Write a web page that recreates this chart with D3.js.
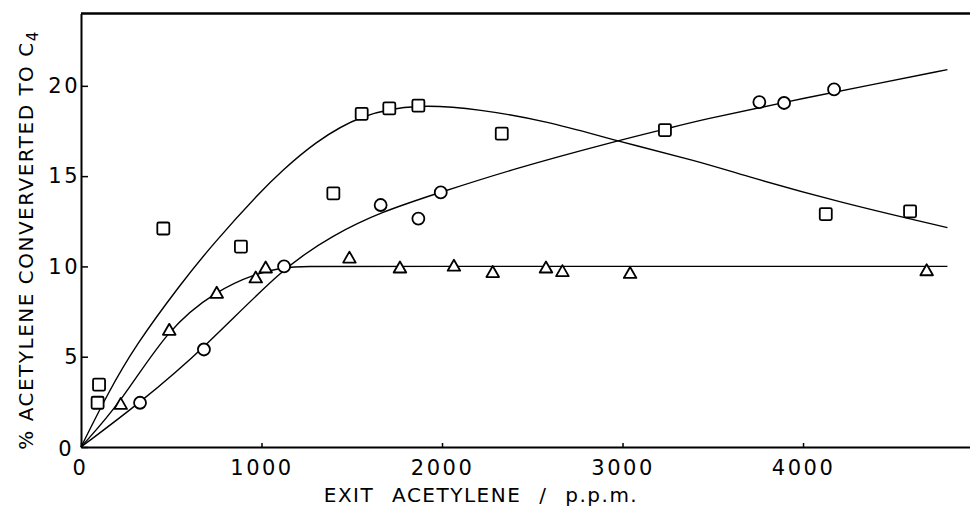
<!DOCTYPE html>
<html><head><meta charset="utf-8">
<script src="https://cdn.jsdelivr.net/npm/d3@7"></script>
<style>body{margin:0;background:#fff}svg{display:block}</style>
</head><body>
<svg id="c" width="970" height="509"></svg>
<script>
// ---- data ----
const xTicks = [0, 1000, 2000, 3000, 4000];
const yTicks = [0, 5, 10, 15, 20];

const squaresX = [92, 100, 456, 886, 1398, 1555, 1708, 1869, 2331, 3235, 4126, 4593];
const squaresY = [2.45, 3.45, 12.1, 11.1, 14.05, 18.45, 18.75, 18.9, 17.35, 17.55, 12.9, 13.05];

const circlesX = [327, 681, 1125, 1660, 1869, 1993, 3758, 3895, 4172];
const circlesY = [2.45, 5.4, 10.0, 13.4, 12.65, 14.1, 19.1, 19.05, 19.8];

const trianglesX = [220, 489, 752, 968, 1023, 1487, 1767, 2066, 2281, 2576, 2667, 3042, 4685];
const trianglesY = [2.4, 6.5, 8.55, 9.4, 9.95, 10.5, 9.95, 10.05, 9.7, 9.95, 9.75, 9.65, 9.8];

// hand-drawn fitted curves
const squareFitX = [0, 150, 300, 550, 735, 1010, 1104, 1290, 1555, 1870, 2210, 2580, 2968, 3430, 3650, 4200, 4800];
const squareFitY = [0, 3.0, 5.6, 9.0, 11.3, 14.3, 15.2, 16.85, 18.45, 19.0, 18.7, 18.05, 16.95, 15.8, 15.1, 13.55, 12.15];

const circleFitX = [0, 327, 681, 1125, 1400, 1657, 1990, 2395, 2968, 3235, 3430, 3900, 4400, 4800];
const circleFitY = [0, 2.45, 5.45, 10.0, 11.75, 13.0, 14.1, 15.4, 16.95, 17.6, 18.1, 19.1, 20.1, 20.9];

const triangleFitX = [0, 220, 484, 750, 968, 1120, 1250, 1500, 4800];
const triangleFitY = [0, 2.45, 6.6, 8.65, 9.6, 9.95, 10, 10, 10];

const xMax = 4925, yMax = 24;

// ---- drawing ----
const svg = d3.select("#c");
const FONT = "DejaVu Sans, sans-serif";
const x = d3.scaleLinear().domain([0, xMax]).range([81, 970]);
const y = d3.scaleLinear().domain([0, yMax]).range([447, 13.6]);

const zip = (a, b) => a.map((v, i) => [v, b[i]]);

// frame: top line
svg.append("line")
  .attr("x1", x(0)).attr("x2", x(xMax))
  .attr("y1", y(yMax)).attr("y2", y(yMax))
  .attr("stroke", "#000").attr("stroke-width", 2.5);

const gx = svg.append("g").attr("transform", `translate(0,${y(0)})`)
  .call(d3.axisBottom(x).tickValues(xTicks).tickSizeInner(-4).tickSizeOuter(0).tickPadding(13).tickFormat(d3.format("d")));
const gy = svg.append("g").attr("transform", `translate(${x(0)},0)`)
  .call(d3.axisLeft(y).tickValues(yTicks).tickSizeInner(-7).tickSizeOuter(0).tickPadding(1).tickFormat(d3.format("d")));

[gx, gy].forEach(g => {
  g.select(".domain").attr("stroke", "#000").attr("stroke-width", 2);
  g.selectAll(".tick line").attr("stroke", "#000").attr("stroke-width", 1.5);
  g.selectAll(".tick text").attr("fill", "#000")
    .style("font-family", FONT).style("font-size", "21px").style("letter-spacing", "2.5px");
});
gx.selectAll(".tick text").filter(d => d === 0).attr("x", -1);
gy.selectAll(".tick text").filter(d => d === 0).attr("x", -7).attr("dy", "0.4em");

// curves
const smooth = d3.line().x(d => x(d[0])).y(d => y(d[1])).curve(d3.curveBasis);
[[squareFitX, squareFitY], [circleFitX, circleFitY], [triangleFitX, triangleFitY]].forEach(([a, b]) => {
  svg.append("path").attr("d", smooth(zip(a, b)))
    .attr("fill", "none").attr("stroke", "#000").attr("stroke-width", 1.4);
});

// markers
const mk = svg.append("g").attr("fill", "#fff").attr("stroke", "#000").attr("stroke-width", 1.8);
mk.selectAll("rect.sq").data(zip(squaresX, squaresY)).join("rect").attr("class", "sq")
  .attr("x", d => x(d[0]) - 6).attr("y", d => y(d[1]) - 6)
  .attr("width", 12).attr("height", 12).attr("rx", 1.5);
mk.selectAll("circle.ci").data(zip(circlesX, circlesY)).join("circle").attr("class", "ci")
  .attr("cx", d => x(d[0])).attr("cy", d => y(d[1])).attr("r", 6);
mk.selectAll("path.tr").data(zip(trianglesX, trianglesY)).join("path").attr("class", "tr")
  .attr("d", d => {
    const cx = x(d[0]), cy = y(d[1]);
    return `M${cx},${cy - 5.8}L${cx + 6.3},${cy + 5.2}L${cx - 6.3},${cy + 5.2}Z`;
  }).attr("stroke-linejoin", "round");

// axis titles
svg.append("text")
  .attr("x", 481).attr("y", 502)
  .attr("text-anchor", "middle")
  .style("font-family", FONT).style("font-size", "20px")
  .style("letter-spacing", "1.5px").style("word-spacing", "10px")
  .text("EXIT ACETYLENE / p.p.m.");

const yt = svg.append("text")
  .attr("transform", "translate(33,240) rotate(-90)")
  .attr("text-anchor", "middle")
  .style("font-family", FONT).style("font-size", "20px")
  .style("letter-spacing", "1.5px");
yt.append("tspan").text("% ACETYLENE CONVERVERTED TO C");
yt.append("tspan").attr("dy", 5).style("font-size", "15px").text("4");
</script>
</body></html>
